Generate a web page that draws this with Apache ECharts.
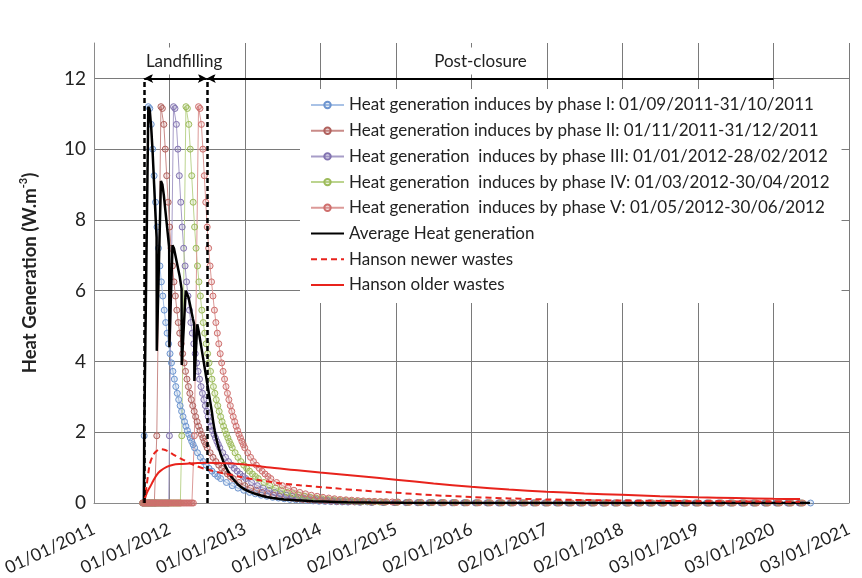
<!DOCTYPE html>
<html>
<head>
<meta charset="utf-8">
<script src="https://cdn.jsdelivr.net/npm/echarts@6/dist/echarts.min.js"></script>
<style>
  html, body { margin: 0; padding: 0; background: #fff; }
  #chart { width: 862px; height: 578px; }
</style>
</head>
<body>
<div id="chart"></div>
<script>
// ---------- DATA (x = days since 01/01/2011) ----------
const tickLabels = ['01/01/2011','01/01/2012','01/01/2013','01/01/2014','02/01/2015','02/01/2016',
  '02/01/2017','02/01/2018','03/01/2019','03/01/2020','03/01/2021'];
const xInterval = 365.5;
const xMax = 3655;
const yTicks = [0, 2, 4, 6, 8, 10, 12];

const phaseNames = [
  'Heat generation induces by phase I: 01/09/2011-31/10/2011',
  'Heat generation induces by phase II: 01/11/2011-31/12/2011',
  'Heat generation  induces by phase III: 01/01/2012-28/02/2012',
  'Heat generation  induces by phase IV: 01/03/2012-30/04/2012',
  'Heat generation  induces by phase V: 01/05/2012-30/06/2012'
];
const phaseStarts = [243, 304, 365, 425, 486];
const dataEndDay = 3470;

// zero-valued points of each phase before it starts
const preStartDays = [236, 243, 250, 257, 264, 271, 278, 285, 292, 299, 306, 313, 320, 327, 334, 341,
  348, 355, 362, 369, 376, 383, 390, 397, 404, 411, 418, 425, 432, 439, 446, 453, 460, 467, 474, 481];

// heat generation of one phase, days after the phase start
const profileT = [0, 20, 27, 34, 41, 48, 55, 62, 69, 76, 83, 90, 97, 104, 111, 118, 125, 132, 139, 146,
  153, 160, 167, 174, 181, 188, 195, 202, 209, 216, 223, 230, 237, 244,
  258, 272, 286, 300, 314, 328, 342, 356, 370,
  398, 426, 454, 482, 510, 538, 566, 594, 622, 650, 678, 706, 734, 762, 790, 818, 846, 874, 902, 930, 958, 986,
  1042, 1098, 1154, 1210, 1266, 1322, 1378, 1434, 1490, 1546, 1602, 1658, 1714, 1770, 1826, 1882, 1938, 1994,
  2050, 2106, 2162, 2218, 2274, 2330, 2386, 2442, 2498, 2554, 2610, 2666, 2722, 2778, 2834, 2890, 2946, 3002,
  3058, 3114, 3170, 3226];
const profileV = [1.9, 11.2, 11.15, 10.7, 10.0, 9.25, 8.5, 7.8, 7.2, 6.7, 6.25, 5.85, 5.45, 5.1, 4.8, 4.5,
  4.22, 3.96, 3.72, 3.5, 3.29, 3.1, 2.92, 2.75, 2.59, 2.44, 2.3, 2.17, 2.05, 1.94, 1.84, 1.74, 1.65, 1.56,
  1.42, 1.29, 1.17, 1.07, 0.98, 0.9, 0.82, 0.75, 0.69,
  0.58, 0.49, 0.42, 0.36, 0.3, 0.26, 0.22, 0.19, 0.16, 0.14, 0.12, 0.1, 0.09, 0.08, 0.07, 0.06, 0.05, 0.045,
  0.04, 0.035, 0.03, 0.027,
  0.022, 0.018, 0.015, 0.012, 0.01, 0.008, 0.007, 0.006, 0.005, 0.004, 0.003, 0.003, 0.002, 0.002, 0.002,
  0.001, 0.001, 0.001, 0.001, 0, 0, 0, 0, 0, 0, 0, 0, 0, 0, 0, 0, 0, 0, 0, 0, 0, 0, 0, 0, 0];

const avgName = 'Average Heat generation';
const avgDays = [242, 243, 263, 270, 277, 284, 291, 298, 303,
  304, 324, 331, 338, 345, 352, 359, 364,
  365, 380, 387, 394, 401, 408, 415, 424,
  425, 444, 451, 458, 465, 472, 479, 485,
  486, 500, 507, 514, 521, 528, 535, 542, 549, 556, 563, 570, 577, 584, 591, 598, 605, 612,
  626, 640, 654, 668, 682, 696, 710, 724, 752, 780, 808, 836, 864, 892, 920, 948, 976, 1004,
  1060, 1116, 1172, 1228, 1340, 1500, 1800, 2200, 2600, 3000, 3466];
const avgVals = [0, 1.9, 11.2, 11.1, 10.6, 9.9, 9.0, 8.1, 7.5,
  4.3, 9.1, 9.0, 8.7, 8.3, 7.9, 7.5, 7.2,
  4.4, 7.28, 7.2, 7.0, 6.8, 6.6, 6.4, 6.05,
  3.9, 6.0, 5.95, 5.8, 5.6, 5.4, 5.2, 5.05,
  3.45, 5.05, 4.85, 4.6, 4.35, 4.1, 3.85, 3.6, 3.35, 3.1, 2.85, 2.6, 2.3, 2.05, 1.85, 1.68, 1.53, 1.4,
  1.17, 0.99, 0.84, 0.72, 0.62, 0.53, 0.46, 0.4, 0.32, 0.26, 0.21, 0.17, 0.14, 0.12, 0.1, 0.09, 0.08, 0.07,
  0.05, 0.04, 0.03, 0.02, 0.012, 0.006, 0.002, 0, 0, 0, 0];

const newName = 'Hanson newer wastes';
const newDays = [243, 250, 255, 263, 271, 287, 303, 320, 336, 352, 384, 432, 481, 546, 626, 707, 804, 900,
  997, 1157, 1300, 1461, 1644, 1826, 2009, 2191, 2374, 2556, 2740, 2924, 3107, 3290, 3418];
const newVals = [0, 0.3, 0.5, 0.85, 1.12, 1.36, 1.47, 1.52, 1.51, 1.48, 1.37, 1.22, 1.08, 0.95, 0.84, 0.74,
  0.64, 0.56, 0.5, 0.42, 0.35, 0.29, 0.22, 0.17, 0.13, 0.1, 0.085, 0.07, 0.06, 0.05, 0.045, 0.04, 0.035];

const oldName = 'Hanson older wastes';
const oldDays = [243, 248, 255, 262, 271, 287, 303, 320, 352, 384, 416, 481, 546, 642, 740, 836, 997, 1094,
  1278, 1461, 1644, 1826, 2009, 2191, 2374, 2556, 2740, 2924, 3107, 3290, 3418];
const oldVals = [0, 0.15, 0.27, 0.36, 0.45, 0.63, 0.79, 0.9, 1.02, 1.08, 1.1, 1.12, 1.14, 1.12, 1.08, 1.01,
  0.92, 0.86, 0.76, 0.66, 0.55, 0.46, 0.38, 0.32, 0.27, 0.23, 0.19, 0.16, 0.14, 0.12, 0.11];

// period annotations
const landfillStart = 243, landfillEnd = 546, postClosureEnd = 3289.5, arrowLevel = 12;
const annotations = [
  { name: 'Landfilling', day: 436, level: 12.49 },
  { name: 'Post-closure', day: 1871, level: 12.49 }
];

// ---------- STYLE ----------
const FONT = 'Lato, "Open Sans", sans-serif';
const phaseLine = ['#a9c2e6', '#c98b88', '#a79dc8', '#bcd48f', '#dc9a98'];
const phaseMarker = ['#6c94cf', '#b0605c', '#8273b0', '#9dbb5b', '#cf6f6d'];
const phaseFill = ['rgba(108,148,207,0.18)', 'rgba(176,96,92,0.18)', 'rgba(130,115,176,0.18)',
  'rgba(157,187,91,0.18)', 'rgba(207,111,109,0.18)'];
const RED = '#e8231c';

function pairs(xs, ys) { return xs.map((x, i) => [x, ys[i]]); }
function phaseData(start) {
  const pts = preStartDays.filter(d => d < start).map(d => [d, 0]);
  profileT.forEach((t, i) => { if (start + t <= dataEndDay) pts.push([start + t, profileV[i]]); });
  return pts;
}

const series = phaseNames.map((name, k) => ({
  type: 'line', name, data: phaseData(phaseStarts[k]),
  symbol: 'circle', symbolSize: 6, showSymbol: true,
  lineStyle: { width: 1, color: phaseLine[k] },
  itemStyle: { color: phaseFill[k], borderColor: phaseMarker[k], borderWidth: 1 },
  emphasis: { disabled: true }, animation: false, z: 2
}));

const dashBlack = { type: [5, 3], width: 2.5, color: '#000' };
const arrowStyle = { type: 'solid', width: 2, color: '#000' };
series.push({
  type: 'line', name: avgName, data: pairs(avgDays, avgVals), symbol: 'none',
  lineStyle: { width: 2.5, color: '#000' }, itemStyle: { color: '#000' },
  emphasis: { disabled: true }, animation: false, z: 3,
  markLine: {
    silent: true, animation: false, label: { show: false }, symbol: ['none', 'none'],
    data: [
      [{ coord: [landfillStart, 0], lineStyle: dashBlack, symbol: 'none' }, { coord: [landfillStart, arrowLevel], symbol: 'none' }],
      [{ coord: [landfillEnd, 0], lineStyle: dashBlack, symbol: 'none' }, { coord: [landfillEnd, arrowLevel], symbol: 'none' }],
      [{ coord: [landfillStart, arrowLevel], lineStyle: arrowStyle, symbol: 'arrow', symbolSize: [7, 9] },
       { coord: [landfillEnd, arrowLevel], symbol: 'arrow', symbolSize: [7, 9] }],
      [{ coord: [landfillEnd, arrowLevel], lineStyle: arrowStyle, symbol: 'arrow', symbolSize: [7, 9] },
       { coord: [postClosureEnd, arrowLevel], symbol: 'none' }]
    ]
  },
  markPoint: {
    silent: true, animation: false, symbol: 'rect', symbolSize: 1,
    itemStyle: { color: 'rgba(0,0,0,0)' },
    label: { show: true, position: 'inside', formatter: '{b}', fontFamily: FONT, fontSize: 17, color: '#222',
      backgroundColor: '#fff', padding: [5, 4] },
    data: annotations.map(a => ({ name: a.name, coord: [a.day, a.level] }))
  }
});
series.push({
  type: 'line', name: newName, data: pairs(newDays, newVals), symbol: 'none', smooth: 0.3,
  lineStyle: { width: 2, color: RED, type: [6, 4] }, itemStyle: { color: RED },
  emphasis: { disabled: true }, animation: false, z: 4
});
series.push({
  type: 'line', name: oldName, data: pairs(oldDays, oldVals), symbol: 'none', smooth: 0.3,
  lineStyle: { width: 2, color: RED }, itemStyle: { color: RED },
  emphasis: { disabled: true }, animation: false, z: 4
});

const noMarker = { color: 'rgba(0,0,0,0)', borderColor: 'rgba(0,0,0,0)', borderWidth: 0 };
const legendData = phaseNames.map(n => ({ name: n }))
  .concat([avgName, newName, oldName].map(n => ({ name: n, itemStyle: noMarker })));

const chart = echarts.init(document.getElementById('chart'), null, { renderer: 'canvas' });
chart.setOption({
  backgroundColor: '#fff',
  animation: false,
  textStyle: { fontFamily: FONT },
  grid: { left: 94, top: 43, right: 13, bottom: 75, containLabel: false, outerBoundsMode: 'none' },
  legend: {
    orient: 'vertical', left: 300, top: 89,
    backgroundColor: '#fff', padding: [6, 12, 8, 10],
    itemWidth: 33, itemHeight: 8, itemGap: 5.7,
    textStyle: { fontFamily: FONT, fontSize: 17, color: '#222', lineHeight: 20 },
    data: legendData,
    selectedMode: false
  },
  xAxis: {
    type: 'value', min: 0, max: xMax, interval: xInterval,
    axisLine: { show: true, lineStyle: { color: '#8a8a8a', width: 1 } },
    axisTick: { show: false },
    splitLine: { show: true, lineStyle: { color: '#7a7a7a', width: 1 } },
    axisLabel: {
      rotate: 25, margin: 25, fontSize: 17.5, color: '#222', fontFamily: FONT,
      formatter: v => tickLabels[Math.round(v / xInterval)]
    }
  },
  yAxis: {
    type: 'value', min: 0, max: 13, interval: 2,
    axisLine: { show: true, lineStyle: { color: '#8a8a8a', width: 1 } },
    axisTick: { show: false },
    splitLine: { show: true, showMaxLine: false, lineStyle: { color: '#7a7a7a', width: 1 } },
    axisLabel: {
      margin: 8, fontSize: 19, color: '#222', fontFamily: FONT, showMaxLabel: false,
      formatter: v => (yTicks.indexOf(v) >= 0 ? String(v) : '')
    },
    name: '{a|Heat Generation (W.m}{b|-3}{a|)}',
    nameLocation: 'middle', nameRotate: 90, nameGap: 54,
    nameTextStyle: {
      rich: {
        a: { fontFamily: FONT, fontSize: 18.5, fontWeight: 'bold', color: '#222', lineHeight: 22, verticalAlign: 'bottom' },
        b: { fontFamily: FONT, fontSize: 11, fontWeight: 'bold', color: '#222', lineHeight: 13, verticalAlign: 'top' }
      }
    }
  },
  series
});
</script>
</body>
</html>
